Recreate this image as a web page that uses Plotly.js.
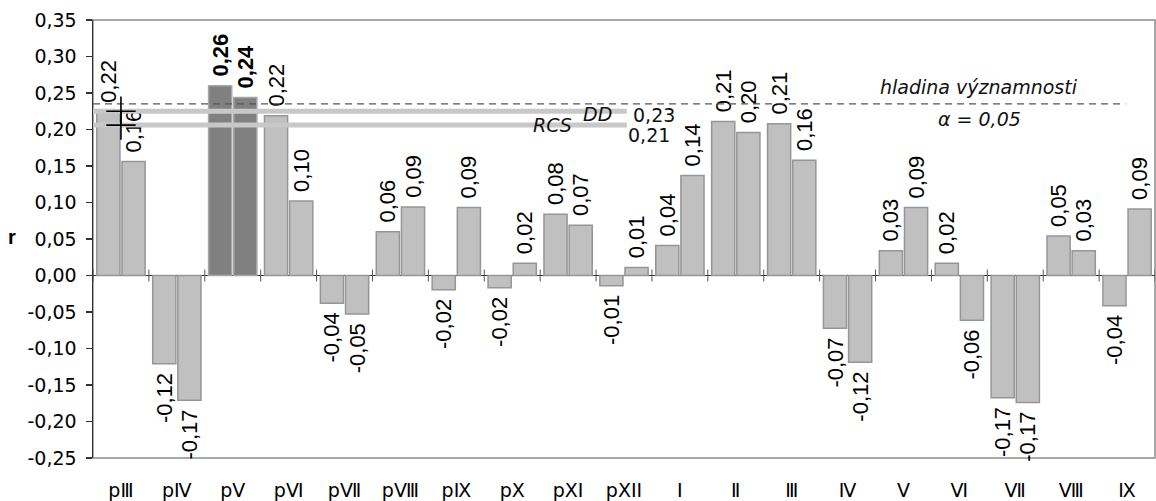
<!DOCTYPE html>
<html>
<head>
<meta charset="utf-8">
<script src="https://cdn.plot.ly/plotly-3.0.1.min.js"></script>
<style>
  html, body { margin: 0; padding: 0; background: #fff; }
  #chart { width: 1156px; height: 501px; }
</style>
</head>
<body>
<div id="chart"></div>
<script>
// ---- data ----
const categories = ['pⅢ','pⅣ','pV','pⅥ','pⅦ','pⅧ','pⅨ','pX','pXI','pXII','I','Ⅱ','Ⅲ','Ⅳ','V','Ⅵ','Ⅶ','Ⅷ','Ⅸ'];
const seriesA = [0.224, -0.121, 0.260, 0.219, -0.038, 0.060, -0.0195, -0.0167, 0.084, -0.014, 0.041, 0.211, 0.208, -0.0724, 0.034, 0.0167, -0.1675, 0.054, -0.0414];
const seriesB = [0.156, -0.171, 0.2437, 0.102, -0.0528, 0.094, 0.093, 0.0167, 0.069, 0.011, 0.137, 0.196, 0.158, -0.119, 0.093, -0.0614, -0.174, 0.034, 0.091];
const significantCategory = 'pV';
const thresholdAlpha = 0.235;     // hladina významnosti α = 0,05
const thresholdDD = 0.225;        // DD 0,23
const thresholdRCS = 0.206;       // RCS 0,21
const thresholdLabels = ['0,23', '0,21'];
const yTickVals = [-0.25,-0.20,-0.15,-0.10,-0.05,0.00,0.05,0.10,0.15,0.20,0.25,0.30,0.35];

// ---- helpers ----
const NB = '\u00a0';
const fmt = v => v.toFixed(2).replace('.', ',');
const yTickText = yTickVals.map(fmt);
const isSig = categories.map(c => c === significantCategory);
const labelsOf = arr => arr.map((v, i) => {
  const t = isSig[i] ? '<b>' + fmt(v) + '</b>' : fmt(v);
  return v >= 0 ? NB + t : t + NB;
});
const fillOf = () => isSig.map(s => s ? '#808080' : '#c0c0c0');
const edgeOf = () => isSig.map(s => s ? '#a6a6a6' : '#969696');

const barCommon = {
  type: 'bar',
  x: categories,
  textposition: 'outside',
  textangle: -90,
  cliponaxis: false,
  constraintext: 'none',
  textfont: { family: 'Liberation Sans, Arial, sans-serif', size: 22, color: '#000' },
  hoverinfo: 'skip',
  showlegend: false
};

const traceA = Object.assign({}, barCommon, {
  y: seriesA, text: labelsOf(seriesA),
  marker: { color: fillOf(), line: { color: edgeOf(), width: 1.5 } }
});
const traceB = Object.assign({}, barCommon, {
  y: seriesB, text: labelsOf(seriesB),
  marker: { color: fillOf(), line: { color: edgeOf(), width: 1.5 } }
});

// reference lines on an overlaying linear x axis (category index units)
const lastIdx = categories.length - 1;
const refLineEnd = categories.indexOf('pXII') + 0.05;
const lineAlpha = {
  type: 'scatter', mode: 'lines', xaxis: 'x2', yaxis: 'y',
  x: [-0.5, lastIdx - 0.03], y: [thresholdAlpha, thresholdAlpha],
  line: { color: '#555', width: 1.2, dash: '7px,5px' },
  hoverinfo: 'skip', showlegend: false, cliponaxis: false
};
const lineDD = {
  type: 'scatter', mode: 'lines', xaxis: 'x2', yaxis: 'y',
  x: [-0.5, refLineEnd], y: [thresholdDD, thresholdDD],
  line: { color: '#c8c8c8', width: 5 },
  hoverinfo: 'skip', showlegend: false, cliponaxis: false
};
const lineRCS = {
  type: 'scatter', mode: 'lines', xaxis: 'x2', yaxis: 'y',
  x: [-0.5, refLineEnd], y: [thresholdRCS, thresholdRCS],
  line: { color: '#c8c8c8', width: 5 },
  hoverinfo: 'skip', showlegend: false, cliponaxis: false
};
const crosses = {
  type: 'scatter', mode: 'markers', xaxis: 'x2', yaxis: 'y',
  x: [0, 0],
  y: [thresholdDD, thresholdRCS],
  marker: { symbol: 'cross-thin', size: 21, color: '#000', line: { color: '#000', width: 1.6 } },
  hoverinfo: 'skip', showlegend: false, cliponaxis: false
};

// axis boundary ticks on zero line
const boundaryTicks = [];
for (let i = 0; i <= categories.length; i++) {
  boundaryTicks.push({
    type: 'line', xref: 'x', yref: 'y', ysizemode: 'pixel', yanchor: 0,
    x0: i - 0.5, x1: i - 0.5, y0: -6, y1: 6,
    line: { color: '#555', width: 1 }, layer: 'above'
  });
}

const shapes = [
  { type: 'rect', xref: 'paper', yref: 'paper', x0: 0, x1: 1, y0: 0, y1: 1,
    line: { color: '#8c8c8c', width: 1.5 }, layer: 'below' }
].concat(boundaryTicks);

const annFont = { family: 'DejaVu Sans, sans-serif', size: 19, color: '#111' };
const annItalic = Object.assign({}, annFont, { style: 'italic' });

const annotations = [
  { xref: 'paper', yref: 'y', x: 0.834, y: 0.258, text: 'hladina významnosti', showarrow: false,
    xanchor: 'center', yanchor: 'middle', font: annItalic },
  { xref: 'paper', yref: 'y', x: 0.835, y: 0.215, text: 'α = ' + fmt(0.05), showarrow: false,
    xanchor: 'center', yanchor: 'middle', font: annItalic },
  { xref: 'paper', yref: 'y', x: 0.4755, y: 0.2215, text: 'DD', showarrow: false,
    xanchor: 'center', yanchor: 'middle', font: annItalic },
  { xref: 'paper', yref: 'y', x: 0.433, y: 0.206, text: 'RCS', showarrow: false,
    xanchor: 'center', yanchor: 'middle', font: annItalic },
  { xref: 'paper', yref: 'y', x: 0.507, y: 0.2195, text: thresholdLabels[0], showarrow: false,
    xanchor: 'left', yanchor: 'middle', font: annFont },
  { xref: 'paper', yref: 'y', x: 0.502, y: 0.193, text: thresholdLabels[1], showarrow: false,
    xanchor: 'left', yanchor: 'middle', font: annFont },
  { xref: 'paper', yref: 'y', x: -0.0765, y: 0.053, text: '<b>r</b>', showarrow: false,
    xanchor: 'center', yanchor: 'middle',
    font: { family: 'Liberation Sans, Arial, sans-serif', size: 20, color: '#000' } }
];

const layout = {
  width: 1156, height: 501,
  margin: { l: 93, r: 1, t: 20, b: 43, pad: 0 },
  paper_bgcolor: '#fff', plot_bgcolor: '#fff',
  separators: ', ',
  barmode: 'group', bargap: 0.1, bargroupgap: 0.08,
  font: { family: 'DejaVu Sans, sans-serif', size: 19, color: '#000' },
  xaxis: {
    type: 'category', categoryorder: 'array', categoryarray: categories,
    range: [-0.5, categories.length - 0.5],
    showline: false, showgrid: false, zeroline: false, ticks: '',
    tickfont: { family: 'DejaVu Sans, sans-serif', size: 19, color: '#000' },
    ticklabelstandoff: 19, automargin: false, fixedrange: true
  },
  xaxis2: {
    overlaying: 'x', anchor: 'y', type: 'linear',
    range: [-0.5, categories.length - 0.5],
    visible: false, showgrid: false, zeroline: false, fixedrange: true
  },
  yaxis: {
    range: [-0.25, 0.35], tickmode: 'array', tickvals: yTickVals, ticktext: yTickText,
    ticks: 'outside', ticklen: 6, tickwidth: 1.5, tickcolor: '#333',
    showline: true, linecolor: '#333', linewidth: 1.5,
    zeroline: true, zerolinecolor: '#333', zerolinewidth: 1.5,
    showgrid: false, ticklabelstandoff: 5,
    tickfont: { family: 'DejaVu Sans, sans-serif', size: 19, color: '#000' },
    automargin: false, fixedrange: true
  },
  shapes: shapes,
  annotations: annotations
};

Plotly.newPlot('chart', [traceA, traceB, lineAlpha, lineDD, lineRCS, crosses], layout,
  { displayModeBar: false, staticPlot: true });
</script>
</body>
</html>
